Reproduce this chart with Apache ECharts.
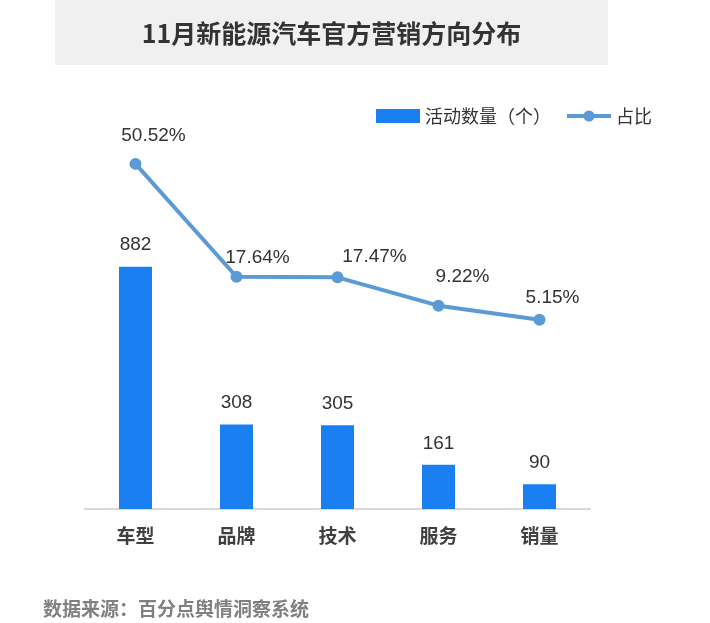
<!DOCTYPE html>
<html>
<head>
<meta charset="utf-8">
<script src="https://cdn.jsdelivr.net/npm/echarts@6/dist/echarts.min.js"></script>
<style>
html,body{margin:0;padding:0;background:#fff;}
#chart{width:710px;height:623px;}
</style>
</head>
<body>
<div id="chart"></div>
<script>
// ---- data ----
const titleText = '11月新能源汽车官方营销方向分布';
const sourceText = '数据来源：百分点舆情洞察系统';
const categories = ['车型', '品牌', '技术', '服务', '销量'];
const activityCounts = [882, 308, 305, 161, 90];
const shares = [50.52, 17.64, 17.47, 9.22, 5.15];
const barName = '活动数量（个）';
const lineName = '占比';

// ---- label nudges (style only) ----
const shareLabelNudge = [[18, -28], [21, -19], [37, -21], [24, -29], [13, -22]];

const FONT_CJK = '"Noto Sans CJK SC", "Noto Sans", sans-serif';
const FONT_NUM = '"Liberation Sans", Arial, sans-serif';

const chart = echarts.init(document.getElementById('chart'), null, {renderer: 'canvas'});

chart.setOption({
  animation: false,
  backgroundColor: '#ffffff',
  graphic: [
    {
      type: 'rect', left: 55, top: 0, z: -1,
      shape: {width: 553, height: 65},
      style: {fill: '#f0f0f0'}
    },
    {
      type: 'text', x: 331.5, y: 33,
      style: {
        text: titleText, fill: '#333333',
        font: 'bold 25px ' + FONT_CJK,
        align: 'center', verticalAlign: 'middle'
      }
    },
    {
      type: 'text', x: 43, y: 609,
      style: {
        text: sourceText, fill: '#808080',
        font: 'bold 19px ' + FONT_CJK,
        align: 'left', verticalAlign: 'middle'
      }
    }
  ],
  legend: {
    right: 53, top: 102,
    itemWidth: 44, itemHeight: 14, itemGap: 14,
    textStyle: {fontSize: 18, color: '#333', fontFamily: FONT_CJK},
    data: [
      {name: barName, icon: 'rect'},
      {name: lineName, lineStyle: {width: 4, color: '#5b9bd5'}, itemStyle: {color: '#5b9bd5'}}
    ]
  },
  grid: {left: 85, right: 120, top: 97, bottom: 114, containLabel: false},
  xAxis: {
    type: 'category',
    data: categories,
    axisLine: {show: true, lineStyle: {color: '#d9d9d9', width: 2}},
    axisTick: {show: false},
    axisLabel: {
      margin: 17, fontSize: 19, fontWeight: 'bold', color: '#404040',
      fontFamily: FONT_CJK
    }
  },
  yAxis: [
    {type: 'value', min: 0, max: 1500, show: false, splitLine: {show: false}},
    {type: 'value', min: -50, max: 70, show: false, splitLine: {show: false}}
  ],
  series: [
    {
      name: barName,
      type: 'bar',
      yAxisIndex: 0,
      barWidth: 33,
      data: activityCounts,
      itemStyle: {color: '#1a80f2'},
      label: {
        show: true, position: 'top', distance: 12,
        fontSize: 19, color: '#333', fontFamily: FONT_NUM
      }
    },
    {
      name: lineName,
      type: 'line',
      yAxisIndex: 1,
      symbol: 'circle',
      symbolSize: 12,
      data: shares.map((v, i) => ({
        value: v,
        label: {offset: shareLabelNudge[i]}
      })),
      lineStyle: {color: '#5b9bd5', width: 4},
      itemStyle: {color: '#5b9bd5'},
      label: {
        show: true, position: 'inside',
        fontSize: 19, color: '#333', fontFamily: FONT_NUM,
        formatter: p => p.value.toFixed(2) + '%'
      }
    }
  ]
});
</script>
</body>
</html>
